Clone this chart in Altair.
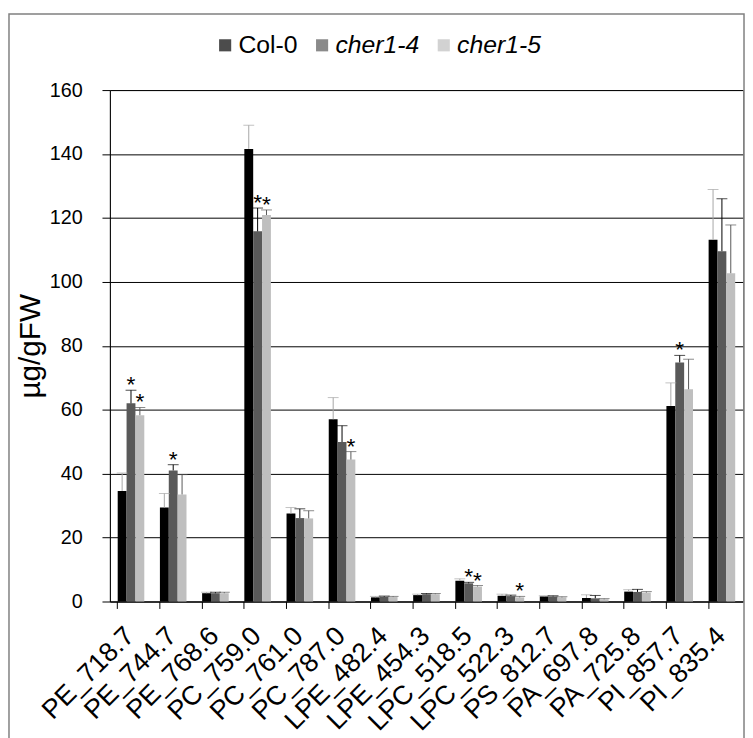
import altair as alt
import pandas as pd

categories = ["PE_718.7", "PE_744.7", "PE_768.6", "PC_759.0", "PC_761.0", "PC_787.0",
              "LPE_482.4", "LPE_454.3", "LPC_518.5", "LPC_522.3", "PS_812.7",
              "PA_697.8", "PA_725.8", "PI_857.7", "PI_835.4"]
series = ["Col-0", "cher1-4", "cher1-5"]
bar_colors = ["#000000", "#595959", "#bfbfbf"]
err_colors = ["#a6a6a6", "#000000", "#595959"]

col0 = [34.6, 29.4, 2.6, 141.6, 27.5, 57.0, 1.3, 2.0, 6.5, 1.8, 1.6, 1.1, 3.1, 61.2, 113.2]
col0_err = [40.2, 33.8, 2.9, 149.0, 29.4, 63.8, 1.6, 2.3, 7.1, 2.3, 1.8, 2.1, 3.7, 68.4, 128.9]
cher4 = [62.0, 41.0, 2.6, 115.8, 26.1, 49.9, 1.5, 2.3, 5.7, 1.7, 1.6, 1.0, 3.0, 74.8, 109.6]
cher4_err = [66.1, 42.8, 2.9, 123.1, 29.0, 55.0, 1.7, 2.5, 6.0, 2.0, 1.8, 1.9, 3.8, 77.0, 126.0]
cher5 = [58.3, 33.5, 2.6, 120.9, 26.0, 44.4, 1.4, 2.3, 4.7, 1.3, 1.3, 0.7, 2.8, 66.4, 102.7]
cher5_err = [60.7, 39.7, 2.9, 122.5, 28.4, 46.9, 1.6, 2.5, 5.0, 1.6, 1.5, 0.9, 3.1, 75.8, 117.8]

sig_cher4 = ["PE_718.7", "PE_744.7", "PC_759.0", "LPC_518.5", "PI_857.7"]
sig_cher5 = ["PE_718.7", "PC_759.0", "PC_787.0", "LPC_518.5", "LPC_522.3"]

rows = []
for s, vals, errs, sig, ec in [
    (series[0], col0, col0_err, [], err_colors[0]),
    (series[1], cher4, cher4_err, sig_cher4, err_colors[1]),
    (series[2], cher5, cher5_err, sig_cher5, err_colors[2]),
]:
    for c, v, e in zip(categories, vals, errs):
        rows.append({"cat": c, "series": s, "value": v, "err": e,
                     "ecolor": ec, "sig": "*" if c in sig else ""})
df = pd.DataFrame(rows)

FONT = "Liberation Sans"

x_enc = alt.X("cat:N", sort=categories,
              scale=alt.Scale(paddingInner=0.37, paddingOuter=0.185),
              axis=alt.Axis(title=None, labelAngle=-45, labelAlign="right",
                            labelBaseline="top", bandPosition=0,
                            labelPadding=14, labelOffset=-10,
                            tickSize=7, tickColor="black", domainColor="black",
                            labelFontSize=27, labelColor="black", labelFont=FONT,
                            grid=False))
xo_enc = alt.XOffset("series:N", sort=series, scale=alt.Scale(paddingInner=0, paddingOuter=0))
y_scale = alt.Scale(domain=[0, 160], nice=False)

base = alt.Chart(df)

bars = base.mark_bar(opacity=1).encode(
    x=x_enc,
    xOffset=xo_enc,
    y=alt.Y("value:Q", scale=y_scale,
            axis=alt.Axis(values=list(range(0, 161, 20)), title="µg/gFW",
                          titleFontSize=30, titleFontWeight="normal", titleFont=FONT,
                          titleColor="black", titlePadding=4,
                          labelFontSize=20, labelFont=FONT, labelColor="black",
                          labelPadding=20, tickSize=8, tickColor="black",
                          domainColor="black", gridColor="black", gridWidth=1)),
    color=alt.Color("series:N", sort=series,
                    scale=alt.Scale(domain=series, range=bar_colors),
                    legend=alt.Legend(title=None, orient="none", direction="horizontal",
                                      legendX=104, legendY=-58,
                                      symbolType="square", symbolSize=150,
                                      symbolStrokeWidth=0, symbolOpacity=1,
                                      labelFontSize=25,
                                      labelFont=FONT, labelColor="black",
                                      labelOffset=1, columnPadding=12,
                                      labelFontStyle={"expr": "datum.label == 'Col-0' ? 'normal' : 'italic'"})),
)

rules = base.mark_rule(strokeWidth=1).encode(
    x=alt.X("cat:N", sort=categories),
    xOffset=alt.XOffset("series:N", sort=series),
    y=alt.Y("value:Q"),
    y2="err:Q",
    color=alt.Color("ecolor:N", scale=None),
)

caps = base.mark_tick(size=11, thickness=1).encode(
    x=alt.X("cat:N", sort=categories),
    xOffset=alt.XOffset("series:N", sort=series),
    y=alt.Y("err:Q"),
    color=alt.Color("ecolor:N", scale=None),
)

stars = base.transform_filter("datum.sig != ''").mark_text(
    fontSize=23, font=FONT, color="black", baseline="alphabetic", dy=2
).encode(
    x=alt.X("cat:N", sort=categories),
    xOffset=alt.XOffset("series:N", sort=series),
    y=alt.Y("err:Q"),
    text="sig:N",
)

frame = alt.Chart(alt.Data(values=[{"f": 1}])).mark_rect(
    fill=None, stroke="#808080", strokeWidth=1.5
).encode(
    x=alt.value(-102), x2=alt.value(641), y=alt.value(-77), y2=alt.value(700)
)

chart = alt.layer(bars, rules, caps, stars, frame).properties(
    width=640, height=517,
    autosize=alt.AutoSizeParams(type="none"),
    padding={"left": 103, "top": 79, "right": 2, "bottom": 134},
).configure_view(stroke="#7f7f7f", strokeWidth=1)

chart.save("out.html", embed_options={"renderer": "svg", "actions": False})
